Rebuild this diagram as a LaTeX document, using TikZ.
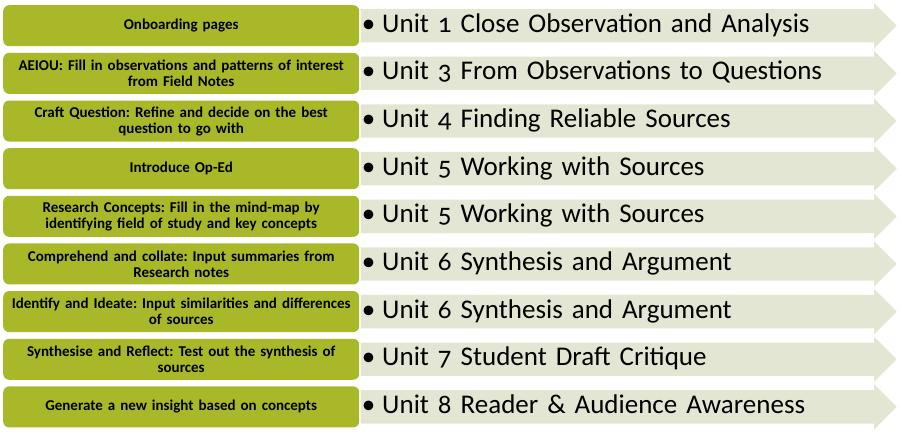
\documentclass[tikz,border=0pt]{standalone}
\usepackage{fontspec}
\setmainfont{Carlito}[Numbers=OldStyle]
\usepackage{tikz}
\usetikzlibrary{positioning,shapes.arrows}
\frenchspacing
\definecolor{olive}{RGB}{168,184,40}
\definecolor{pale}{RGB}{227,230,210}
\tikzset{
  stepbox/.style={rounded corners=6pt,fill=olive,align=center,inner sep=0pt,
                  text width=356pt,minimum width=356pt,minimum height=41pt,
                  font=\bfseries\fontsize{15}{16}\selectfont},
  unitarrow/.style={single arrow,fill=pale,single arrow head extend=6pt,
                    single arrow tip angle=90,inner xsep=1pt,inner ysep=4pt,
                    text width=517pt,align=left,text height=19pt,text depth=6pt,
                    font=\fontsize{27}{28}\selectfont}
}

\begin{document}
\begin{tikzpicture}[x=1pt,y=1pt,node distance=6.25pt]
  \useasboundingbox (0,0) rectangle (902,-434);
  \node[stepbox,anchor=north west] (onboard) at (3,-5) {Onboarding pages};
  \node[stepbox,below=of onboard] (aeiou) {AEIOU: Fill in observations and patterns of interest\\from Field Notes};
  \node[stepbox,below=of aeiou] (craft) {Craft Question: Refine and decide on the best\\question to go with};
  \node[stepbox,below=of craft] (oped) {Introduce Op-Ed};
  \node[stepbox,below=of oped] (concepts) {Research Concepts: Fill in the mind-map by\\identifying field of study and key concepts};
  \node[stepbox,below=of concepts] (collate) {Comprehend and collate: Input summaries from\\Research notes};
  \node[stepbox,below=of collate] (ideate) {Identify and Ideate: Input similarities and differences\\of sources};
  \node[stepbox,below=of ideate] (reflect) {Synthesise and Reflect: Test out the synthesis of\\sources};
  \node[stepbox,below=of reflect] (insight) {Generate a new insight based on concepts};
  % units
  \node[unitarrow,right=1pt of onboard] (unitA) {•\hspace{7pt}Unit 1 Close Observation and Analysis};
  \node[unitarrow,right=1pt of aeiou] (unitB) {•\hspace{7pt}Unit 3 From Observations to Questions};
  \node[unitarrow,right=1pt of craft] (unitC) {•\hspace{7pt}Unit 4 Finding Reliable Sources};
  \node[unitarrow,right=1pt of oped] (unitD) {•\hspace{7pt}Unit 5 Working with Sources};
  \node[unitarrow,right=1pt of concepts] (unitE) {•\hspace{7pt}Unit 5 Working with Sources};
  \node[unitarrow,right=1pt of collate] (unitF) {•\hspace{7pt}Unit 6 Synthesis and Argument};
  \node[unitarrow,right=1pt of ideate] (unitG) {•\hspace{7pt}Unit 6 Synthesis and Argument};
  \node[unitarrow,right=1pt of reflect] (unitH) {•\hspace{7pt}Unit 7 Student Draft Critique};
  \node[unitarrow,right=1pt of insight] (unitI) {•\hspace{7pt}Unit 8 Reader \& Audience Awareness};
\end{tikzpicture}
\end{document}
